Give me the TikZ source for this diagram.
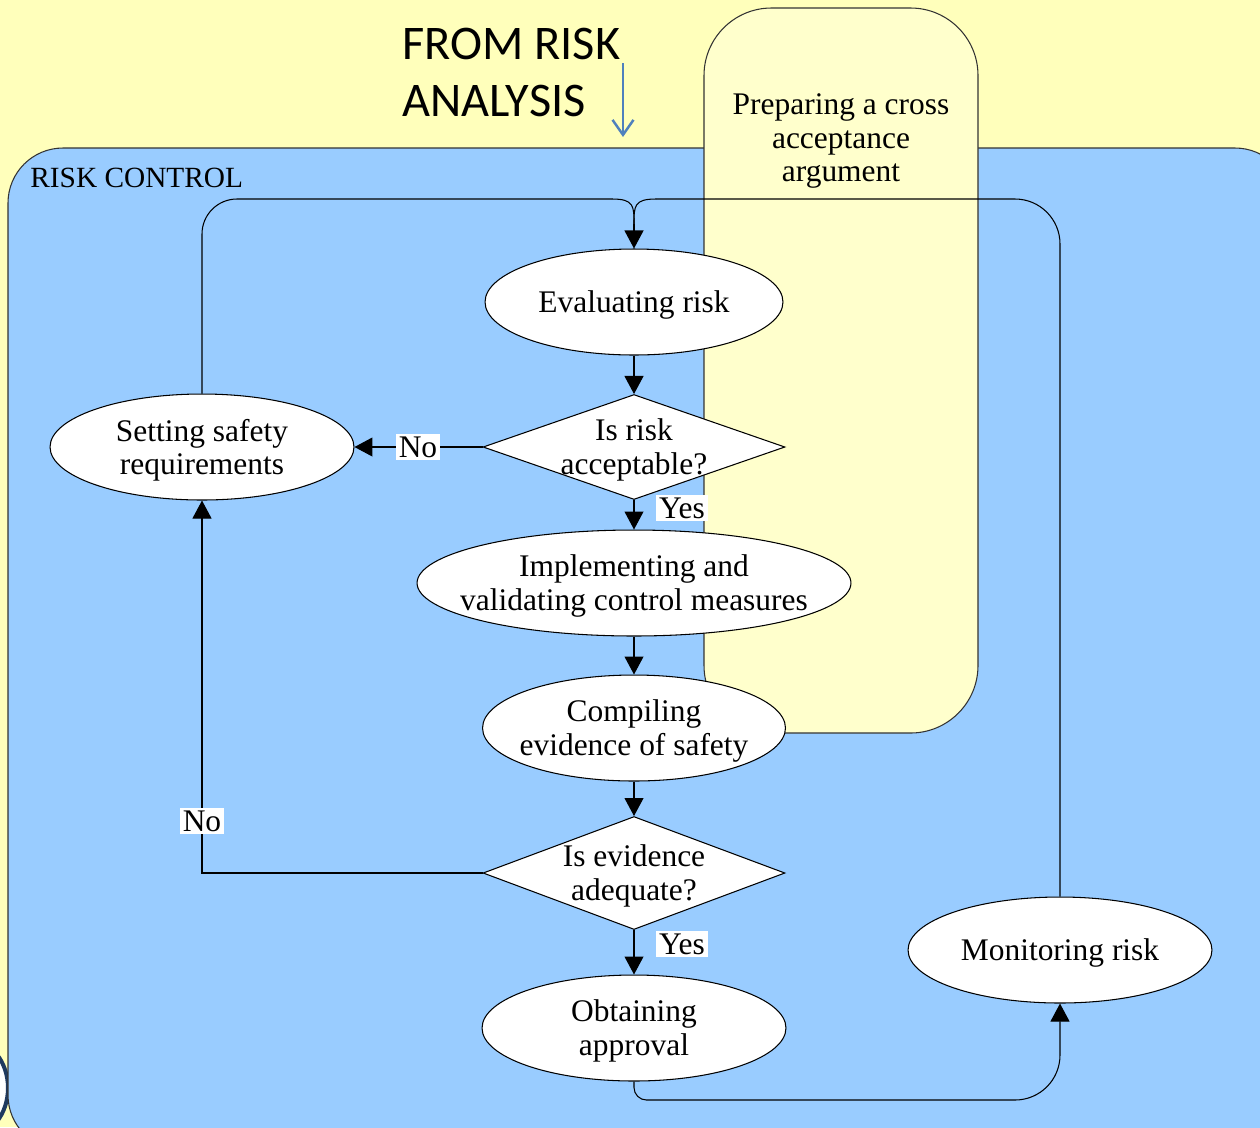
\documentclass[tikz,border=0pt]{standalone}
\usepackage{fontspec}
\setmainfont{Liberation Serif}
\newfontfamily\calfont{Carlito}
\usetikzlibrary{shapes.geometric,arrows.meta}
\definecolor{bgyellow}{HTML}{FFFFBB}
\definecolor{panelyellow}{HTML}{FFFFCC}
\definecolor{riskblue}{HTML}{99CCFF}
\definecolor{arrowblue}{HTML}{4F81BD}
\definecolor{edgegrey}{HTML}{333333}
\definecolor{blobnavy}{HTML}{1F3A5F}
\newcommand\nodefont{\fontsize{17.9}{18.9}\selectfont}
\tikzset{
  ell/.style={ellipse, draw=black, fill=white, line width=0.6pt, minimum height=2.12cm, inner sep=0pt},
  dia/.style={diamond, draw=black, fill=white, line width=0.6pt, aspect=2.9, minimum width=6.04cm, minimum height=2.1cm, inner sep=0pt},
  txt/.style={align=center, font=\nodefont, inner sep=0pt, yshift=-0.06cm},
  lbl/.style={fill=white, inner sep=1.5pt, font=\nodefont},
  flow/.style={draw=black, line width=0.6pt},
  arr/.style={flow, -{Triangle[length=0.36cm,width=0.38cm]}},
}
\begin{document}
\begin{tikzpicture}[x=0.02cm,y=-0.02cm]
\useasboundingbox (0,0) rectangle (1260,1127);
\clip (0,0) rectangle (1260,1127);
\fill[bgyellow] (0,0) rectangle (1260,1127);
% partial shape at the lower left edge
\draw[fill=white, draw=blobnavy, line width=0.08cm] (-30,1088) ellipse [x radius=0.76cm, y radius=0.95cm];
% risk control area
\draw[fill=riskblue, draw=edgegrey, line width=0.6pt, rounded corners=1.1cm] (8,148) rectangle (1290,1150);
% cross acceptance panel
\draw[fill=panelyellow, draw=edgegrey, line width=0.6pt, rounded corners=1.35cm] (704,8) rectangle (978,733);
\node[txt] (prep) at (841,138) {Preparing a cross\\acceptance\\argument};
\node[anchor=base west, inner sep=0pt, font=\fontsize{16.7}{19}\selectfont] (rc) at (30,187) {RISK CONTROL};
\node[anchor=north west, align=left, inner sep=0pt, font=\calfont\fontsize{27.5}{32.3}\selectfont] (from) at (402,28) {FROM RISK\\ANALYSIS};
\coordinate (fromtail) at (623,63);
\coordinate (fromhead) at (623,137);
\draw[arrowblue, line width=1.4pt, -{Straight Barb[length=0.3cm,width=0.42cm]}] (fromtail) -- (fromhead);

% nodes
\node[ell, minimum width=5.96cm] (ev) at (634,302) {};
\node[txt] (evt) at (ev) {Evaluating risk};
\node[dia] (d1) at (634,447) {};
\node[txt] (d1t) at (d1) {Is risk\\acceptable?};
\node[ell, minimum width=6.08cm] (set) at (202,447) {};
\node[txt] (sett) at (set) {Setting safety\\requirements};
\node[ell, minimum width=8.68cm] (imp) at (634,583) {};
\node[txt] (impt) at (imp) {Implementing and\\validating control measures};
\node[ell, minimum width=6.06cm] (comp) at (634,728) {};
\node[txt] (compt) at (comp) {Compiling\\evidence of safety};
\node[dia, minimum height=2.26cm] (d2) at (634,873) {};
\node[txt] (d2t) at (d2) {Is evidence\\adequate?};
\node[ell, minimum width=6.08cm] (ob) at (634,1028) {};
\node[txt] (obt) at (ob) {Obtaining\\approval};
\node[ell, minimum width=6.08cm] (mon) at (1060,950) {};
\node[txt] (mont) at (mon) {Monitoring risk};

% connectors
\coordinate (merge) at (634,224);
\coordinate (jl) at (612,199);
\coordinate (jr) at (656,199);
\draw[flow, rounded corners=0.7cm] (set.north) |- (jl);
\draw[flow] (jl) .. controls (634,199) and (634,206) .. (merge);
\draw[flow, rounded corners=0.9cm] (mon.north) |- (jr);
\draw[flow] (jr) .. controls (634,199) and (634,206) .. (merge);
\draw[arr] (merge) -- (ev.north);
\draw[arr] (ev.south) -- (d1.north);
\draw[arr] (d1.west) -- (set.east);
\draw[arr] (d1.south) -- (imp.north);
\draw[arr] (imp.south) -- (comp.north);
\draw[arr] (comp.south) -- (d2.north);
\draw[arr] (d2.west) -| (set.south);
\draw[arr] (d2.south) -- (ob.north);
\coordinate (obc) at (634,1100);
\coordinate (monc) at (1060,1100);
\draw[arr] (ob.south) [rounded corners=0.25cm] -- (obc) [rounded corners=0.9cm] -- (monc) -- (mon.south);

% labels
\node[lbl] (no1) at (418,447) {No};
\node[lbl] (yes1) at (682,508) {Yes};
\node[lbl] (no2) at (202,821) {No};
\node[lbl] (yes2) at (682,944) {Yes};
\end{tikzpicture}
\end{document}
